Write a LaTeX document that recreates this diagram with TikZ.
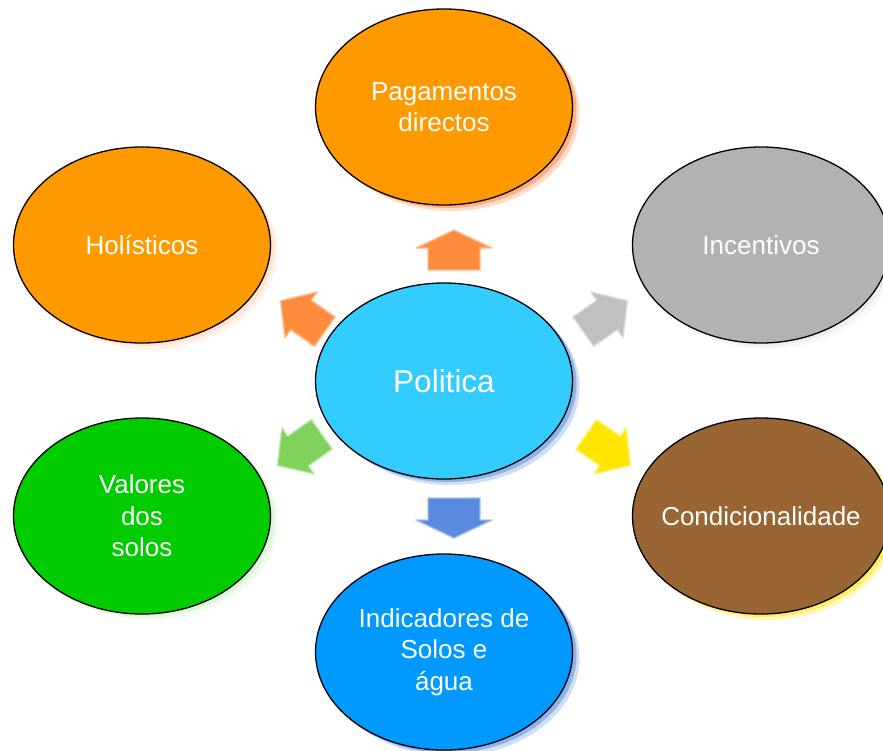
\documentclass[tikz,border=0pt]{standalone}
\usepackage{fontspec}
\setmainfont{Liberation Sans}
\usetikzlibrary{shapes.geometric}
\definecolor{cOrange}{HTML}{FF9900}
\definecolor{cGray}{HTML}{B2B2B2}
\definecolor{cBrown}{HTML}{996633}
\definecolor{cGreen}{HTML}{00CC00}
\definecolor{cBlue}{HTML}{0099FF}
\definecolor{cCyan}{HTML}{33CCFF}
\definecolor{shOrange}{HTML}{FF7A2A}
\definecolor{shBlue}{HTML}{3E7FD8}
\definecolor{shYellow}{HTML}{FFE600}
\definecolor{shPeach}{HTML}{FFD2B0}
\definecolor{shGreen}{HTML}{C8F0C0}
\definecolor{shGray}{HTML}{E4E4E4}
\definecolor{aOrange}{HTML}{FF8B3D}
\definecolor{aGray}{HTML}{BFC1BF}
\definecolor{aYellow}{HTML}{FFE600}
\definecolor{aGreen}{HTML}{80D25B}
\definecolor{aBlue}{HTML}{5A8AE0}
\tikzset{
  bubble/.style={ellipse, draw=black, line width=1.3pt, minimum width=257pt,
    minimum height=196pt, inner sep=0pt, align=center, text=white,
    font=\fontsize{26}{31.5}\selectfont},
  softshadow/.style={
    preaction={fill=#1, fill opacity=0.25, draw=none,
      transform canvas={xshift=7pt,yshift=-6pt}},
    preaction={fill=#1, fill opacity=0.45, draw=none,
      transform canvas={xshift=4pt,yshift=-3pt}}},
  blockarrow/.style={fill=#1, draw=#1!55!white, draw opacity=0.6,
    line width=2pt, line join=round}
}
\begin{document}
\begin{tikzpicture}[x=1pt,y=-1pt]
\useasboundingbox (0,0) rectangle (883,750);
\fill[white] (0,0) rectangle (883,750);

% block arrows
\path[blockarrow=aOrange, shift={(454,248)}, rotate=90]
  (18,0) -- (0,38) -- (0,26) -- (-22,26) -- (-22,-26) -- (0,-26) -- (0,-38) -- cycle;
\path[blockarrow=aBlue, shift={(454,520)}, rotate=-90]
  (18,0) -- (0,38) -- (0,26) -- (-22,26) -- (-22,-26) -- (0,-26) -- (0,-38) -- cycle;
\path[blockarrow=aOrange, shift={(301,315)}, rotate=145]
  (25,0) -- (0,28) -- (0,18) -- (-29,18) -- (-29,-18) -- (0,-18) -- (0,-28) -- cycle;
\path[blockarrow=aGray, shift={(607,315)}, rotate=35]
  (25,0) -- (0,28) -- (0,18) -- (-29,18) -- (-29,-18) -- (0,-18) -- (0,-28) -- cycle;
\path[blockarrow=aGreen, shift={(298,451)}, rotate=215]
  (25,0) -- (0,28) -- (0,18) -- (-29,18) -- (-29,-18) -- (0,-18) -- (0,-28) -- cycle;
\path[blockarrow=aYellow, shift={(610,451)}, rotate=-35]
  (25,0) -- (0,28) -- (0,18) -- (-29,18) -- (-29,-18) -- (0,-18) -- (0,-28) -- cycle;

% ellipses
\node[bubble, fill=cOrange, softshadow=shOrange] (pag) at (444,107) {Pagamentos\\directos};
\node[bubble, fill=cOrange, softshadow=shPeach] (hol) at (142,245) {Holísticos};
\node[bubble, fill=cGray, softshadow=shGray] (inc) at (761,245) {Incentivos};
\node[bubble, fill=cCyan, softshadow=shBlue, font=\fontsize{31.5}{38}\selectfont] (pol) at (444,381) {Politica};
\node[bubble, fill=cGreen, softshadow=shGreen] (val) at (142,516) {Valores\\dos\\solos};
\node[bubble, fill=cBrown, softshadow=shYellow] (con) at (761,516) {\makebox[0pt]{Condicionalidade}};
\node[bubble, fill=cBlue, softshadow=shBlue] (ind) at (444,652) {Indicadores de\\Solos e\\água};
\end{tikzpicture}
\end{document}
